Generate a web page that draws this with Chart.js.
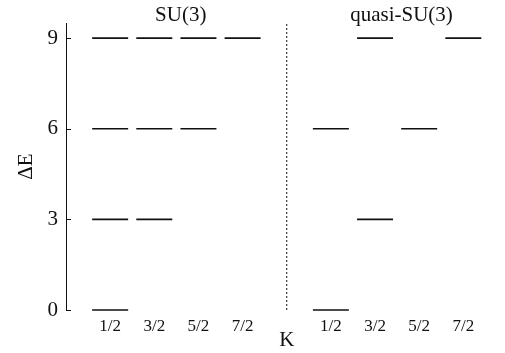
<!DOCTYPE html>
<html>
<head>
<meta charset="utf-8">
<script src="https://cdn.jsdelivr.net/npm/chart.js@4"></script>
<style>
  html, body { margin: 0; padding: 0; background: #fff; }
  #wrap { width: 505px; height: 353px; }
</style>
</head>
<body>
<div id="wrap"><canvas id="c" width="505" height="353"></canvas></div>
<script>
// K values shown under each group of levels
const kLabels = ['1/2', '3/2', '5/2', '7/2'];
// Level energies (ΔE) for each K, in the SU(3) limit
const su3Levels = [
  [0, 3, 6, 9],
  [3, 6, 9],
  [6, 9],
  [9]
];
// Level energies (ΔE) for each K, in the quasi-SU(3) scheme
const quasiLevels = [
  [0, 6],
  [3, 9],
  [6],
  [9]
];
const yTicks = [0, 3, 6, 9];
const panelTitles = ['SU(3)', 'quasi-SU(3)'];

// x slots: SU(3) group on 1..4, divider on 5, quasi-SU(3) group on 6..9
const su3Slots = [1, 2, 3, 4];
const quasiSlots = [6, 7, 8, 9];
const dividerSlot = 5;

function toPoints(levels, slots) {
  const pts = [];
  levels.forEach((list, i) => list.forEach(e => pts.push({ x: slots[i], y: e })));
  return pts;
}

const serif = "'Liberation Serif', 'DejaVu Serif', serif";
const ink = '#111';

const levelStyle = {
  showLine: false,
  clip: false,
  pointStyle: 'line',
  pointRadius: 18,
  pointHoverRadius: 18,
  pointBorderWidth: 1.6,
  borderColor: ink,
  backgroundColor: ink
};

// Panel titles, the K axis label and inward tick marks on the energy axis
const annotations = {
  id: 'annotations',
  afterDraw(chart) {
    const { ctx, scales: { x, y }, chartArea } = chart;
    ctx.save();
    ctx.fillStyle = ink;
    ctx.textAlign = 'center';
    ctx.textBaseline = 'middle';
    ctx.font = '21px ' + serif;
    ctx.fillText(panelTitles[0], x.getPixelForValue(2.6), 15);
    ctx.fillText(panelTitles[1], x.getPixelForValue(7.6), 15);
    ctx.fillText('K', x.getPixelForValue(dividerSlot), 340);
    ctx.strokeStyle = ink;
    ctx.lineWidth = 1;
    yTicks.forEach(v => {
      const py = Math.round(y.getPixelForValue(v)) + 0.5;
      ctx.beginPath();
      ctx.moveTo(chartArea.left, py);
      ctx.lineTo(chartArea.left + 5, py);
      ctx.stroke();
    });
    ctx.restore();
  }
};

new Chart(document.getElementById('c'), {
  type: 'scatter',
  data: {
    datasets: [
      Object.assign({ label: panelTitles[0], data: toPoints(su3Levels, su3Slots) }, levelStyle),
      Object.assign({ label: panelTitles[1], data: toPoints(quasiLevels, quasiSlots) }, levelStyle),
      {
        label: 'divider',
        type: 'line',
        data: [{ x: dividerSlot, y: 0 }, { x: dividerSlot, y: 9.5 }],
        borderColor: ink,
        borderWidth: 1,
        borderDash: [2, 2],
        pointRadius: 0,
        fill: false
      }
    ]
  },
  options: {
    responsive: false,
    animation: false,
    events: [],
    layout: { padding: { top: 23, right: 18, left: 0, bottom: 0 } },
    plugins: { legend: { display: false }, tooltip: { enabled: false } },
    scales: {
      x: {
        type: 'linear',
        min: 0,
        max: 9.5,
        grid: { display: false, drawTicks: false, tickLength: 0 },
        border: { display: false },
        afterBuildTicks(scale) {
          scale.ticks = su3Slots.concat(quasiSlots).map(v => ({ value: v }));
        },
        afterFit(scale) { scale.height = 43; },
        ticks: {
          autoSkip: false,
          maxRotation: 0,
          padding: 6,
          color: ink,
          font: { family: serif, size: 17 },
          callback(v) {
            let i = su3Slots.indexOf(v);
            if (i < 0) i = quasiSlots.indexOf(v);
            return i >= 0 ? kLabels[i] : '';
          }
        }
      },
      y: {
        min: 0,
        max: 9.5,
        grid: { display: false, drawTicks: false, tickLength: 0 },
        border: { display: true, color: ink, width: 1 },
        afterBuildTicks(scale) {
          scale.ticks = yTicks.map(v => ({ value: v }));
        },
        afterFit(scale) { scale.width = 66; },
        title: {
          display: true,
          text: 'ΔE',
          color: ink,
          font: { family: serif, size: 21 },
          padding: { top: 14, bottom: 0 }
        },
        ticks: {
          padding: 8,
          color: ink,
          font: { family: serif, size: 21 }
        }
      }
    }
  },
  plugins: [annotations]
});
</script>
</body>
</html>
